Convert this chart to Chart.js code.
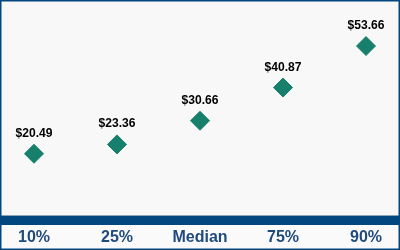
<!DOCTYPE html>
<html>
<head>
<meta charset="utf-8">
<script src="https://cdn.jsdelivr.net/npm/chart.js@4/dist/chart.umd.min.js"></script>
<style>
html,body{margin:0;padding:0;background:#fff;}
canvas{display:block;}
</style>
</head>
<body>
<canvas id="c" width="400" height="250"></canvas>
<script>
const categories = ["10%", "25%", "Median", "75%", "90%"];
const values = [20.49, 23.36, 30.66, 40.87, 53.66];
const valueLabels = ["$20.49", "$23.36", "$30.66", "$40.87", "$53.66"];

const NAVY = "#02477F";
const TEAL = "#17806C";

const framePlugin = {
  id: "frame",
  beforeDraw(chart) {
    const ctx = chart.ctx;
    ctx.save();
    ctx.fillStyle = "#F8F8F8";
    ctx.fillRect(0, 0, chart.width, chart.height);
    const yb = Math.round(chart.scales.y.getPixelForValue(0));
    ctx.fillStyle = "#FAFAFA";
    ctx.fillRect(0, yb + 5, chart.width, chart.height - yb - 5);
    ctx.fillStyle = "#8CA3BD";
    ctx.fillRect(0, yb - 5, chart.width, 1);
    ctx.fillStyle = NAVY;
    ctx.fillRect(0, yb - 4, chart.width, 9);
    ctx.restore();
  },
  afterDraw(chart) {
    const ctx = chart.ctx;
    ctx.save();
    ctx.strokeStyle = NAVY;
    ctx.lineWidth = 1.5;
    ctx.strokeRect(0.75, 0.75, chart.width - 1.5, chart.height - 1.5);
    ctx.restore();
  }
};

const labelPlugin = {
  id: "valueLabels",
  afterDatasetsDraw(chart) {
    const ctx = chart.ctx;
    const meta = chart.getDatasetMeta(0);
    ctx.save();
    ctx.font = "bold 13px 'Liberation Sans', Arial, sans-serif";
    ctx.fillStyle = "#000000";
    ctx.textAlign = "center";
    ctx.textBaseline = "alphabetic";
    meta.data.forEach((pt, i) => {
      ctx.save();
      ctx.translate(pt.x, pt.y - 17);
      ctx.scale(0.93, 1);
      ctx.fillText(valueLabels[i], 0, 0);
      ctx.restore();
    });
    ctx.restore();
  }
};

new Chart(document.getElementById("c"), {
  type: "line",
  data: {
    labels: categories,
    datasets: [{
      data: values,
      showLine: false,
      pointStyle: "rectRot",
      pointRadius: 9.5,
      pointHoverRadius: 9.5,
      pointBackgroundColor: TEAL,
      pointBorderColor: TEAL,
      pointBorderWidth: 1
    }]
  },
  options: {
    responsive: false,
    animation: false,
    devicePixelRatio: 1,
    layout: { autoPadding: false, padding: { left: 34, right: 34, top: 10, bottom: -4.5 } },
    plugins: { legend: { display: false }, tooltip: { enabled: false } },
    scales: {
      x: {
        offset: false,
        grid: { display: false, drawTicks: false },
        border: { display: false },
        ticks: {
          padding: 7.5,
          color: "#1F4A7D",
          font: { family: "'Liberation Sans', Arial, sans-serif", size: 16, weight: "bold" },
          maxRotation: 0
        }
      },
      y: {
        display: false,
        min: 0,
        max: 64.75
      }
    }
  },
  plugins: [framePlugin, labelPlugin]
});
</script>
</body>
</html>
